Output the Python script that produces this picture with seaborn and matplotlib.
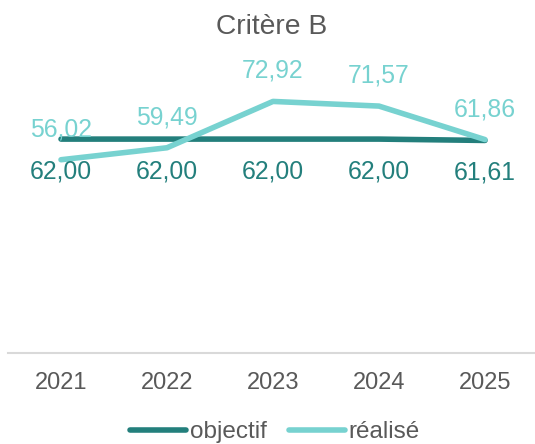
import pandas as pd
import numpy as np
import matplotlib.pyplot as plt
import seaborn as sns

# Chart values
years = ['2021', '2022', '2023', '2024', '2025']
objectif = [62.00, 62.00, 62.00, 62.00, 61.61]
realise = [56.02, 59.49, 72.92, 71.57, 61.86]

dark_teal = '#237F7C'
light_teal = '#77D2D0'
grey_text = '#595959'

sns.set_theme(style='white')
plt.rcParams['font.family'] = ['Liberation Sans', 'DejaVu Sans']

# Long format table for seaborn
data = pd.DataFrame({
    'pos': list(range(len(years))) * 2,
    'valeur': objectif + realise,
    'serie': ['objectif'] * len(years) + ['réalisé'] * len(years),
})

fig = plt.figure(figsize=(5.35, 4.44), dpi=100)
ax = fig.add_axes([8 / 535, 1 - 353 / 444, 530 / 535, (353 - 77) / 444])

sns.lineplot(data=data, x='pos', y='valeur', hue='serie',
             palette={'objectif': dark_teal, 'réalisé': light_teal},
             linewidth=4, solid_capstyle='round', ax=ax)

# Data labels: réalisé above, objectif below
for i, v in enumerate(realise):
    ax.annotate(f'{v:.2f}'.replace('.', ','), (i, v), xytext=(0, 22),
                textcoords='offset points', ha='center', va='center',
                fontsize=17.8, color=light_teal)
for i, v in enumerate(objectif):
    ax.annotate(f'{v:.2f}'.replace('.', ','), (i, v), xytext=(0, -23),
                textcoords='offset points', ha='center', va='center',
                fontsize=17.8, color=dark_teal)

ax.set_xlim(-0.5, len(years) - 0.5)
ax.set_ylim(0, 80)
ax.set_xticks(range(len(years)))
ax.set_xticklabels(years, fontsize=17, color=grey_text)
ax.set_yticks([])
ax.tick_params(axis='x', length=0, pad=14)
ax.set_xlabel('')
ax.set_ylabel('')

for side in ['top', 'right', 'left']:
    ax.spines[side].set_visible(False)
ax.spines['bottom'].set_color('#D9D9D9')
ax.spines['bottom'].set_linewidth(1.5)

fig.text(272 / 535, 1 - 27 / 444, 'Critère B', ha='center', va='center',
         fontsize=20.3, color=grey_text)

handles, labels = ax.get_legend_handles_labels()
ax.legend(handles, labels, loc='center', bbox_to_anchor=(275 / 535, 1 - 432 / 444),
          bbox_transform=fig.transFigure, ncol=2, frameon=False,
          fontsize=17.5, labelcolor=grey_text, handlelength=2.3,
          handletextpad=0.15, columnspacing=0.9, borderpad=0)

fig.savefig('out.png', dpi=100)
